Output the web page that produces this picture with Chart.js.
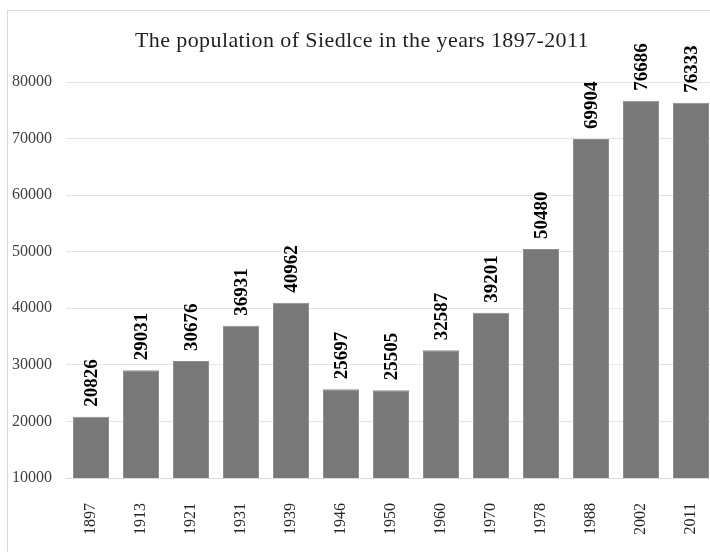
<!DOCTYPE html>
<html>
<head>
<meta charset="utf-8">
<script src="https://cdn.jsdelivr.net/npm/chart.js@4.4.1/dist/chart.umd.min.js"></script>
<style>
    html, body { margin: 0; padding: 0; overflow: hidden; background: #fff; }
    #wrap { position: relative; width: 716px; height: 552px; }
    #popChart { display: block; }
    #frame { position: absolute; left: 7px; top: 10px; right: 0; bottom: 0;
             border-left: 1px solid #d9d9d9; border-top: 1px solid #d9d9d9; pointer-events: none; }
</style>
</head>
<body>
<div id="wrap">
    <canvas id="popChart" width="716" height="552"></canvas>
    <div id="frame"></div>
</div>
<script>
// Data
const years = ['1897', '1913', '1921', '1931', '1939', '1946', '1950', '1960', '1970', '1978', '1988', '2002', '2011'];
const population = [20826, 29031, 30676, 36931, 40962, 25697, 25505, 32587, 39201, 50480, 69904, 76686, 76333];
const yTicks = [10000, 20000, 30000, 40000, 50000, 60000, 70000, 80000];
const chartTitle = 'The population of Siedlce in the years 1897-2011';

const serif = '"Liberation Serif", "Times New Roman", serif';

// Title drawn at its own spot (the original was cropped, so it is off-centre)
const titlePlugin = {
    id: 'offsetTitle',
    afterDraw(chart) {
        const ctx = chart.ctx;
        ctx.save();
        ctx.font = '22px ' + serif;
        if ('letterSpacing' in ctx) ctx.letterSpacing = '0.4px';
        ctx.fillStyle = '#1f1f1f';
        ctx.textAlign = 'center';
        ctx.textBaseline = 'alphabetic';
        ctx.fillText(chartTitle, 362, 47);
        ctx.restore();
    }
};

// Rotated value labels above each bar
const valueLabels = {
    id: 'valueLabels',
    afterDatasetsDraw(chart) {
        const ctx = chart.ctx;
        const meta = chart.getDatasetMeta(0);
        ctx.save();
        ctx.font = 'bold 19px ' + serif;
        ctx.fillStyle = '#000';
        ctx.textAlign = 'left';
        ctx.textBaseline = 'middle';
        meta.data.forEach((bar, i) => {
            ctx.save();
            ctx.translate(bar.x, bar.y - 10);
            ctx.rotate(-Math.PI / 2);
            ctx.fillText(String(population[i]), 0, 1);
            ctx.restore();
        });
        ctx.restore();
    }
};

new Chart(document.getElementById('popChart'), {
    type: 'bar',
    data: {
        labels: years,
        datasets: [{
            data: population,
            backgroundColor: '#787878',
            borderColor: '#8e8e8e',
            borderWidth: 1,
            barPercentage: 0.72,
            categoryPercentage: 1
        }]
    },
    options: {
        responsive: false,
        animation: false,
        devicePixelRatio: 1,
        layout: { padding: { top: 82, right: 0, left: 0, bottom: 0 } },
        plugins: {
            legend: { display: false },
            title: { display: false },
            tooltip: { enabled: false }
        },
        scales: {
            x: {
                grid: { display: false, drawTicks: false },
                border: { display: true, color: '#d9d9d9' },
                ticks: {
                    minRotation: 90,
                    maxRotation: 90,
                    padding: 25,
                    color: '#262626',
                    font: { family: serif, size: 16 }
                },
                afterFit(scale) {
                    scale.height = 74;
                    scale.paddingLeft = 0;
                    scale.paddingRight = 0;
                }
            },
            y: {
                min: 10000,
                max: 80000,
                afterBuildTicks(scale) {
                    scale.ticks = yTicks.map(v => ({ value: v }));
                },
                grid: { color: '#e4e4e4', drawTicks: false },
                border: { display: false },
                ticks: {
                    padding: 14,
                    color: '#404040',
                    font: { family: serif, size: 16 },
                    callback: v => String(v)
                },
                afterFit(scale) { scale.width = 66; }
            }
        }
    },
    plugins: [titlePlugin, valueLabels]
});
</script>
</body>
</html>
